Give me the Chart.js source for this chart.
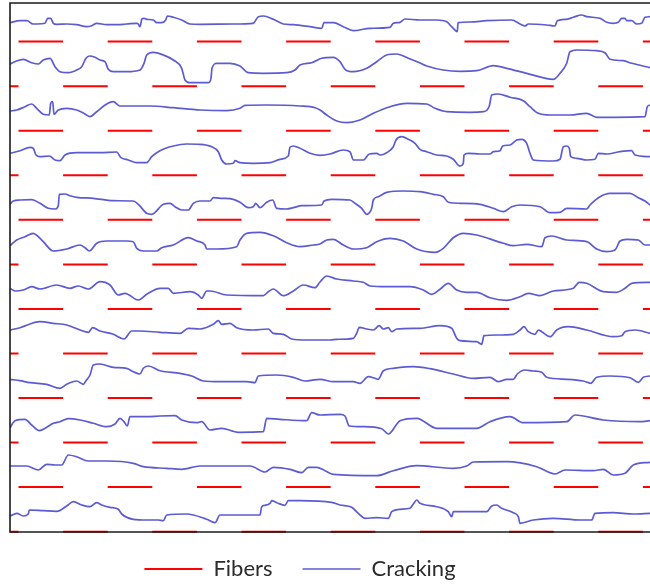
<!DOCTYPE html>
<html>
<head>
<meta charset="utf-8">
<script src="https://cdn.jsdelivr.net/npm/chart.js@4"></script>
<style>
  html, body { margin: 0; padding: 0; background: #fff; overflow: hidden; }
  #wrap { position: relative; width: 650px; height: 586px; }
</style>
</head>
<body>
<div id="wrap"><canvas id="chart"></canvas></div>
<script>
// ===== Data =====
// x / y in specimen units (y measured downward from the top edge)
const X_MAX = 640, Y_MAX = 529;

// fibers: one row per y, each fiber a segment of FIBER_LEN starting at x
const FIBER_LEN = 44.6;
const fiberRowsY = [38.6, 83.2, 127.7, 172.3, 216.8, 261.4, 305.9, 350.5, 395.0, 439.6, 484.1, 528.7];
const fiberStartsOdd = [8.5, 97.7, 186.9, 276.1, 365.3, 454.5, 543.7, 632.9];
const fiberStartsEven = [-36.1, 53.1, 142.3, 231.5, 320.7, 409.9, 499.1, 588.3];

// crack traces, [x, y]
const crack01 = [[0,19.7],[10,17.7],[17,17.7],[23,21],[27,21],[35,20.3],[37.7,15.3],[40.7,15.3],[43.3,20.3],[46.7,21.3],[56.7,21],[66.7,21.7],[76.7,23.7],[81.7,22.7],[86.7,20.3],[96.7,21.7],[106.7,21.7],[116.7,21],[126.7,20.3],[128.3,21],[130,23.7],[132,15.7],[134,15.3],[136.7,16.3],[143.3,17],[146.7,19.7],[151.7,19.7],[155.7,17],[157.3,13],[163.3,14.3],[171.7,17],[180,21],[190,21.3],[223.3,21],[243.3,20.3],[248.3,13.7],[253.3,13],[263.3,16.3],[273.3,21],[283.3,21.7],[300,23.7],[311.7,25.3],[314,19.7],[323.3,19.7],[333.3,23.7],[343.3,27.7],[360,25.3],[380,24.3],[383.3,20.3],[390,19.3],[395,16],[410,17],[426.7,17],[436.7,18.7],[440,22],[443.3,25.3],[447.3,28.7],[448,19.7],[460,19],[476.7,17.7],[501.7,17],[510,21],[515,23],[518.3,21],[536.7,22],[545,23],[547.3,17.7],[556.7,16.3],[563.3,14.3],[571.7,12],[576.7,13.7],[590,15.3],[596.7,19.3],[603.3,20.3],[608.3,19.3],[611.7,15.3],[615,15.3],[616.7,17.7],[621.7,17.7],[626.7,21],[631.7,20.3],[635,14.3],[640,13.7]];
const crack02 = [[0,61],[5,58.7],[13.3,56.3],[21.7,59.7],[28.3,61],[33.3,57],[40,55.3],[45,63.7],[50,68.7],[58.3,69.7],[66.7,67],[71.7,63.7],[76,55.3],[79.3,53],[85,54.3],[90,57],[95,58.7],[98.3,66.3],[103.3,68.7],[116.7,68.7],[130,67],[134,60.3],[136.7,52],[143.3,49.3],[153.3,52],[163.3,57],[171.7,65.3],[175,77],[180,79.7],[198.3,79.7],[201,75.3],[202,65.3],[206.7,60.3],[220,60.3],[230,63],[238.3,69.7],[253.3,70.3],[276.7,69.7],[285,67],[290,62],[301.7,59.7],[311.7,55.3],[323.3,54.3],[330,58.7],[335,66.3],[343.3,68.7],[356.7,65.3],[366.7,58.7],[376.7,52],[386.7,51],[398.3,55.3],[408.3,59.3],[416.7,63],[433.3,67],[450,68.3],[466.7,67.7],[483.3,62.7],[496.7,65.3],[516.7,70.3],[543.3,76.3],[550,70.3],[556.7,60.3],[560,48.7],[566.7,47],[586.7,47.7],[595,49.7],[600,56.3],[613.3,57.7],[621.7,60.3],[640,64.7]];
const crack03 = [[0,108],[6.7,107],[15,103.7],[21.7,101],[26.7,105.3],[33.3,111.3],[39.3,112],[40.7,100.3],[42.7,98.7],[44,111.3],[48.3,107],[56.7,105.3],[66.7,107],[75,111],[80,113.7],[86.7,108.7],[96.7,101],[103.3,98.7],[110,103],[123.3,103],[140,103],[163.3,104.7],[190,107],[216.7,107.7],[230,105.3],[235,102.3],[256.7,102],[290,103],[305,104.7],[310,107],[316.7,112],[326.7,118],[336.7,119.7],[350,117],[363.3,110.3],[380,103.7],[396.7,100.3],[416.7,101],[425,105.3],[436.7,108.7],[460,109.3],[473.3,108.7],[479.3,103],[481.7,92],[488.3,91],[500,94.3],[513.3,97.7],[520,103.7],[528.3,110.3],[540,112],[560,112],[576.7,110.3],[586.7,114.3],[603.3,114.3],[635,113.7],[637.3,103.7],[640,102]];
const crack04 = [[0,150.3],[10,147.7],[20,144.3],[23.3,145.3],[26,152],[30,153.7],[39.3,153],[45,157],[50,157.7],[55,152],[66.7,149.7],[90,149.7],[106.7,149],[110.7,154.3],[118.3,157],[126.7,159.7],[136.7,159.7],[141.7,153.7],[150,147.7],[163.3,143],[176.7,141],[190,141.3],[201.7,143.7],[208.3,148.7],[211.7,157],[216.7,161],[223.3,160.3],[225,157.7],[230,159.7],[243.3,160.3],[260,159.7],[270,156.3],[278.3,153],[280,144.3],[283.3,143],[290,145.3],[300,150.3],[310,152.3],[320,151],[333.3,147],[340,148.7],[343.3,157],[353.3,157],[359.3,151],[366.7,150.3],[370,152],[376.7,149.7],[383.3,143.7],[386,137],[391.7,133.7],[398.3,136.3],[405,140.3],[410,146.3],[416.7,148.7],[426.7,152],[436.7,153],[443.3,156.3],[450,163],[453.3,160.3],[454,152],[458.3,150.3],[470,151],[480,151],[483.3,148.7],[490,147.7],[492.7,143],[500,142],[506.7,137],[511.7,136.3],[516.7,140.3],[520,150.3],[523.3,157],[543.3,158],[550,156.3],[553.3,143.7],[556.7,143],[559.3,145.3],[560.7,153.7],[566.7,155.3],[576.7,157],[585,156.3],[588.3,150.3],[596.7,151],[610,148.7],[621.7,147.7],[625,152],[640,153.7]];
const crack05 = [[0,201.3],[3.3,198],[10,197],[21.7,196.7],[30,200.3],[38.3,205.3],[45,206],[48.3,202.7],[49.3,191.3],[55,191],[60,192.7],[66.7,194.3],[83.3,195.3],[103.3,197.7],[123.3,198],[128.3,201.3],[136.7,210.3],[141.7,211.3],[153.3,201.3],[160,200.3],[165,203.7],[171.7,207],[178.3,207],[183.3,200.3],[190,198],[200,198],[203.3,194.7],[211.7,195.3],[223.3,196.3],[230,199.3],[238.3,204.7],[243.3,203.7],[245.7,200.3],[250,204.7],[256.7,199.3],[262.7,197],[266.7,205.3],[276.7,206],[283.3,204.7],[291.7,202.7],[311.7,202],[314,198],[321.7,196.3],[340,197],[345,200.3],[351.7,205.3],[356.7,211.3],[361.7,205.3],[363.3,197],[368.3,193.7],[376.7,189.3],[393.3,188],[410,188.7],[423.3,191.3],[433.3,193.7],[438.3,199.3],[450,200.3],[470,201.3],[483.3,205.3],[493.3,208.7],[501.7,203.7],[510,202],[530,203.7],[540,209.7],[550,209.3],[556.7,205.3],[576.7,206],[580,202],[590,193.7],[600,190.3],[620,190.3],[628.3,194.7],[635,198],[640,202]];
const crack06 = [[0,242.7],[6.7,237],[15,233.7],[23.3,230.3],[28.3,233.7],[33.3,238.7],[43.3,248],[56.7,246],[70,242],[75,244.7],[79.3,248],[86.7,240.3],[96.7,238],[116.7,238],[123.3,238.7],[126.7,245.3],[133.3,248],[146.7,248],[151.7,244.7],[163.3,242],[178.3,234.7],[186.7,238],[195,242],[196.7,246],[206.7,246],[226.7,243.7],[230,237],[236.7,230.3],[250,229.3],[263.3,232.7],[276.7,239.7],[290,243.7],[303.3,242],[310,241],[316.7,237],[323.3,236.3],[333.3,242],[343.3,246],[356.7,244.7],[366.7,238.7],[380,235.3],[393.3,238],[406.7,246],[425,249.3],[433.3,245.3],[443.3,234.7],[453.3,230.3],[466.7,232],[493.3,240.3],[503.3,242.7],[516.7,241.3],[531.7,243.7],[535,234.7],[541.7,233],[556.7,237],[576.7,238.7],[586.7,246],[596.7,248.7],[605,247],[610,238],[616.7,236.3],[628.3,237],[635,242],[640,242]];
const crack07 = [[0,285.3],[5,288],[13.3,287],[21.7,283.7],[30,286],[46.7,282],[60,285.3],[68.3,283],[78.3,286],[90,278.7],[100,282],[108.3,292],[115,290.3],[128.3,297],[136.7,291.3],[150,285.3],[158.3,285.3],[163.3,290.3],[180,288.7],[188.3,292],[191.7,295.3],[196.7,288],[200,288],[216.7,292],[253.3,292.7],[258.3,288.7],[263.3,286],[273.3,292.7],[283.3,288],[293.3,282],[305,284.7],[310,279],[316.7,273],[326.7,276],[343.3,278],[353.3,279.3],[360,283],[376.7,283.7],[400,283.7],[413.3,287],[421.7,291.3],[430,286.3],[438.3,280.3],[446.7,287],[456.7,289.3],[466.7,289.3],[480,294.7],[496.7,297.3],[510,293.7],[518.3,290.3],[530,292.7],[543.3,288],[563.3,285.3],[569.3,279.3],[576.7,280.3],[593.3,288.7],[606.7,289.3],[615,285.3],[621.7,280.3],[640,279.3]];
const crack08 = [[0,327],[10,324.7],[30,318.7],[43.3,320.3],[56.7,322],[70,327],[78.3,329.3],[82.7,324.7],[90,328],[103.3,331.3],[114,336],[121.7,328],[130,328],[150,329.3],[170,330.3],[178.3,325.3],[190,326],[203.3,321.3],[208.3,317.7],[211.7,321.3],[220,320.3],[226.7,324.7],[243.3,327],[258.3,326],[263.3,330.3],[273.3,331.3],[281.7,336],[296.7,337],[320,337],[326.7,336.3],[343.3,335.3],[346.7,330.3],[349.3,324.3],[356.7,326],[363.3,327],[369.3,322.7],[373.3,326],[378.3,324.7],[381.7,328.7],[386.7,326],[410,325.3],[430,322.7],[441.7,325.3],[446.7,335.3],[450,337.7],[466.7,338.7],[471.7,341.3],[474,332.7],[486.7,332],[503.3,331.3],[510,327],[514,323.7],[518.3,328.7],[525,331.3],[528.3,327],[531.7,328.7],[540,333.7],[546.7,327],[558.3,323.7],[576.7,327],[603.3,333.7],[611.7,332.7],[615,328.7],[625,327],[640,330.3]];
const crack09 = [[0,376.3],[10,377.7],[20,379.7],[36.7,381.3],[50,385.3],[56.7,381.3],[66.7,378],[73.3,381.3],[76,377.7],[80,372],[83.3,362],[90,361],[103.3,364.3],[116.7,365.3],[123.3,368.7],[130,371],[133.3,365.3],[138.3,363],[150,367.7],[170,370.3],[181.7,373],[193.3,378],[210,378.7],[236.7,378.7],[245,379.7],[248.3,373],[266.7,372],[283.3,374.3],[295,378],[310,376.3],[323.3,378.7],[343.3,378.7],[350,380.3],[358.3,373.7],[365,375.3],[368.3,376.3],[373.3,367.7],[383.3,365.3],[403.3,363.7],[420,365.7],[443.3,371],[463.3,375.3],[480,374.3],[488.3,378.7],[496.7,376.3],[503.3,376.3],[507.3,371],[515,367],[523.3,368],[531.7,369.3],[536.7,374.3],[556.7,376.3],[573.3,378],[580.7,380.3],[586.7,374.3],[600,373],[620,374.7],[628.3,379.3],[633.3,374.3],[640,373]];
const crack10 = [[0,424.7],[5,417.7],[15,416.3],[21.7,422],[29.3,427.7],[36.7,424.3],[43.3,420.3],[50,418.7],[58.3,415.7],[70,417],[83.3,420.3],[96.7,423.7],[105,421],[110,415.3],[114,418.7],[117.3,423],[120,413.7],[136.7,413.7],[150,413],[165,412.7],[171.7,417],[186.7,419.7],[191.7,418.7],[200,427],[211.7,425.3],[228.3,429.3],[253.3,428.7],[256.7,415.3],[270,416.3],[296.7,417.7],[301.7,409.7],[310,412],[330,411.3],[335,413],[339.3,423],[353.3,423.7],[371.7,425.7],[378.3,431],[390,417.7],[406.7,415.3],[426.7,425.3],[466.7,425.3],[480,418.7],[500,413.7],[513.3,419.7],[556.7,418.7],[565,412],[593.3,417],[630,418.7],[640,417.7]];
const crack11 = [[0,463],[16.7,463],[28.3,467],[36.7,461.3],[45,462],[51.7,462],[58.3,452],[66.7,453.7],[78.3,458],[96.7,458],[123.3,460.3],[133.3,463.7],[156.7,465.3],[171.7,466.3],[190,463],[240,463],[255,469],[263.3,464.3],[280,466.3],[291.7,469.7],[298.3,464.3],[306.7,464.3],[315,467.7],[323.3,471.3],[366.7,472.7],[383.3,467.7],[406.7,462.7],[443.3,465.3],[456.7,463],[463.3,459],[496.7,458.7],[526.7,463.7],[545,471],[555,467],[583.3,467.7],[593.3,466.3],[603.3,472],[615,470.3],[623.3,462],[640,459.3]];
const crack12 = [[0,513],[6.7,510.3],[13.3,513],[18.3,511],[19.3,507],[33.3,507.7],[46.7,508.3],[56.7,503],[63.3,498.7],[71.7,502],[80,503.7],[86.7,499.7],[91.7,502],[100,504.3],[108.3,506.3],[111.7,511],[123.3,516.3],[136.7,517],[148.3,517],[153.3,517.7],[156.7,512],[176.7,511],[196.7,516.3],[205,519.7],[210,512],[223.3,512],[250,512],[251.7,503.7],[255,502.3],[260,500.3],[261.7,497.7],[266.7,499.7],[275,502.3],[278.3,497.7],[290,497.7],[321.7,499.3],[330,502],[341.7,504.3],[348.3,510.3],[355,515.3],[366.7,514.7],[378.3,515.3],[381.7,508.7],[390,506.3],[400,505.3],[403.3,501],[406.7,497],[410,500.3],[426.7,503.7],[438.3,508.7],[441.7,513.7],[443.3,508.7],[476.7,508.7],[481.7,503],[486.7,502],[491.7,505.3],[503.3,509.7],[508.3,513.7],[510,520.3],[523.3,517],[543.3,515.3],[570,517],[581.7,517],[585,510.3],[603.3,509.7],[623.3,511],[640,510.3]];
const cracks = [crack01, crack02, crack03, crack04, crack05, crack06, crack07, crack08, crack09, crack10, crack11, crack12];

// ===== Styling =====
const FIBER_COLOR = '#ff0000';
const CRACK_COLOR = '#5b5bd3';
const LEGEND_DX = -30;   // legend sits left of centre in the original
const LEGEND_DY = -4;

// ===== Build datasets =====
function fiberPoints() {
  const pts = [];
  fiberRowsY.forEach((y, i) => {
    const starts = i % 2 === 0 ? fiberStartsOdd : fiberStartsEven;
    starts.forEach(s => {
      pts.push({x: s, y}, {x: s + FIBER_LEN, y}, {x: s + FIBER_LEN, y: null});
    });
  });
  return pts;
}

const datasets = [{
  label: 'Fibers', data: fiberPoints(),
  borderColor: FIBER_COLOR, backgroundColor: FIBER_COLOR, borderWidth: 2,
  pointRadius: 0, pointBorderWidth: 2, pointBorderColor: FIBER_COLOR,
  tension: 0, spanGaps: false, clip: {left: 0, top: 0, right: 0, bottom: 2}
}];
cracks.forEach(c => {
  datasets.push({
    label: 'Cracking', data: c.map(([x, y]) => ({x, y})),
    borderColor: CRACK_COLOR, backgroundColor: CRACK_COLOR, borderWidth: 1.7,
    pointRadius: 0, pointBorderWidth: 1.7, pointBorderColor: CRACK_COLOR,
    cubicInterpolationMode: 'monotone'
  });
});

// ===== Plugins =====
const frame = {
  id: 'frame',
  afterDatasetsDraw(chart) {
    const {ctx, chartArea: a} = chart;
    ctx.save();
    ctx.strokeStyle = '#1b1b1b';
    ctx.lineWidth = 1.6;
    ctx.beginPath();
    ctx.moveTo(a.right, a.top);
    ctx.lineTo(a.left, a.top);
    ctx.lineTo(a.left, a.bottom);
    ctx.lineTo(a.right, a.bottom);
    ctx.stroke();
    ctx.restore();
  }
};

const legendNudge = {
  id: 'legendNudge',
  afterLayout(chart) {
    const lg = chart.legend;
    if (!lg) return;
    lg.left += LEGEND_DX; lg.right += LEGEND_DX;
    lg.top += LEGEND_DY; lg.bottom += LEGEND_DY;
  }
};

// ===== Chart =====
new Chart(document.getElementById('chart'), {
  type: 'line',
  data: { datasets },
  plugins: [frame, legendNudge],
  options: {
    animation: false, responsive: true, maintainAspectRatio: false,
    events: [],
    layout: { padding: { left: 10, top: 3, right: 0, bottom: -8 } },
    scales: {
      x: { type: 'linear', min: 0, max: X_MAX, display: false },
      y: { type: 'linear', min: 0, max: Y_MAX, reverse: true, display: false }
    },
    plugins: {
      tooltip: { enabled: false },
      legend: {
        position: 'bottom',
        labels: {
          filter: item => item.datasetIndex < 2,
          usePointStyle: true, pointStyle: 'line', pointStyleWidth: 58,
          padding: 30, color: '#2b2b2b',
          font: { family: 'Lato', size: 22 }
        }
      }
    }
  }
});
</script>
</body>
</html>
